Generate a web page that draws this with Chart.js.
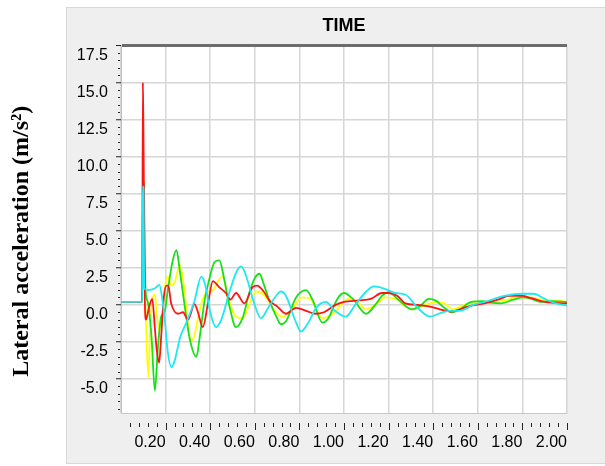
<!DOCTYPE html>
<html>
<head>
<meta charset="utf-8">
<script src="https://cdn.jsdelivr.net/npm/chart.js@4.4.0/dist/chart.umd.min.js"></script>
<style>
  html, body { margin: 0; padding: 0; background: #fff; }
  #panel {
    position: absolute; left: 66px; top: 7px; width: 545px; height: 455px;
    background: #efefef; border: 1px solid #d8d8d8;
  }
  #chart { position: absolute; left: 0; top: 0; }
</style>
</head>
<body>
<div id="panel"></div>
<canvas id="chart" width="605" height="466"></canvas>
<script>
// axis ticks
const xTicks = [0, 0.2, 0.4, 0.6, 0.8, 1.0, 1.2, 1.4, 1.6, 1.8, 2.0]
const yTicks = [-5, -2.5, 0, 2.5, 5, 7.5, 10, 12.5, 15, 17.5]

// series (time in s, lateral acceleration in m/s2)
const redT = [0, 0.095, 0.098, 0.100, 0.103, 0.106, 0.112, 0.125, 0.140, 0.152, 0.160, 0.171, 0.180, 0.192, 0.204, 0.212, 0.225, 0.256, 0.278, 0.300, 0.330, 0.345, 0.367, 0.390, 0.412, 0.440, 0.470, 0.490, 0.516, 0.553, 0.590, 0.610, 0.640, 0.665, 0.700, 0.740, 0.785, 0.830, 0.870, 0.910, 0.963, 1.000, 1.067, 1.120, 1.170, 1.200, 1.240, 1.275, 1.330, 1.380, 1.430, 1.480, 1.520, 1.560, 1.630, 1.690, 1.740, 1.800, 1.840, 1.900, 2.000]
const redV = [0.2, 0.2, 15.0, 12.6, 7.5, 1.0, -1.0, -0.2, 0.4, -1.6, -3.0, -3.9, -2.2, 0.5, 1.3, 1.3, 0.1, -0.6, -0.5, -1.0, 0.05, -0.5, -1.5, 0.1, 1.6, 1.2, 0.8, 0.35, 0.8, 0.1, 1.2, 1.3, 0.9, 0.3, -0.1, -0.6, -0.2, -0.4, -0.6, -0.5, 0.0, 0.2, 0.3, 0.4, 0.8, 0.8, 0.6, 0.1, 0.0, -0.1, -0.3, -0.45, -0.3, -0.1, 0.1, 0.35, 0.6, 0.6, 0.45, 0.2, 0.1]

const yellowT = [0, 0.095, 0.098, 0.102, 0.108, 0.115, 0.123, 0.130, 0.140, 0.152, 0.160, 0.170, 0.185, 0.200, 0.211, 0.225, 0.240, 0.265, 0.280, 0.295, 0.315, 0.330, 0.355, 0.380, 0.412, 0.440, 0.457, 0.480, 0.516, 0.545, 0.580, 0.605, 0.640, 0.695, 0.725, 0.770, 0.814, 0.850, 0.903, 0.950, 1.020, 1.060, 1.100, 1.150, 1.186, 1.230, 1.305, 1.350, 1.409, 1.450, 1.490, 1.540, 1.600, 1.660, 1.720, 1.790, 1.840, 1.900, 1.950, 2.000]
const yellowV = [0.2, 0.2, 7.2, 6.5, 1.0, -2.5, -4.9, -2.0, 0.3, 0.7, -0.5, -1.7, -0.5, 1.5, 1.9, 1.3, 1.5, 2.7, 1.5, -0.5, -2.5, -2.0, -0.2, 0.8, 1.0, 1.7, 1.9, 0.5, -0.8, -0.9, 0.2, 0.9, 0.7, -0.5, -0.8, -0.2, 0.5, 0.4, -0.9, -0.6, 0.4, 0.2, -0.3, 0.1, 0.5, 0.4, -0.3, -0.1, 0.2, 0.1, -0.3, 0.0, 0.2, 0.1, 0.3, 0.5, 0.5, 0.3, 0.3, 0.2]

const greenT = [0, 0.095, 0.099, 0.103, 0.106, 0.110, 0.120, 0.137, 0.152, 0.165, 0.180, 0.195, 0.210, 0.232, 0.249, 0.262, 0.285, 0.307, 0.338, 0.352, 0.375, 0.397, 0.420, 0.441, 0.462, 0.485, 0.516, 0.545, 0.575, 0.600, 0.621, 0.640, 0.665, 0.700, 0.717, 0.740, 0.785, 0.830, 0.860, 0.903, 0.930, 0.970, 1.000, 1.040, 1.100, 1.140, 1.170, 1.200, 1.240, 1.305, 1.340, 1.380, 1.410, 1.450, 1.483, 1.520, 1.570, 1.620, 1.660, 1.700, 1.760, 1.800, 1.840, 1.880, 1.930, 2.000]
const greenV = [0.2, 0.2, 8.3, 8.2, 4.0, 1.0, 0.2, -2.2, -5.8, -3.0, -0.8, -0.5, 1.0, 3.0, 3.7, 2.5, 0.0, -2.2, -3.5, -2.3, 0.3, 1.8, 2.9, 3.0, 1.8, 0.0, -1.5, -0.9, 0.8, 1.8, 2.1, 1.4, 0.3, -0.9, -1.3, -1.1, 0.5, 1.0, 0.3, -1.2, -0.9, 0.4, 0.8, 0.4, -0.6, 0.0, 0.6, 0.85, 0.4, -0.3, -0.1, 0.4, 0.3, -0.2, -0.5, -0.3, 0.2, 0.25, 0.15, 0.1, 0.35, 0.5, 0.4, 0.2, 0.25, 0.2]

const cyanT = [0, 0.096, 0.097, 0.101, 0.104, 0.120, 0.150, 0.172, 0.185, 0.196, 0.210, 0.226, 0.240, 0.265, 0.293, 0.330, 0.360, 0.380, 0.400, 0.427, 0.450, 0.487, 0.520, 0.539, 0.560, 0.595, 0.628, 0.660, 0.700, 0.717, 0.740, 0.780, 0.807, 0.840, 0.875, 0.918, 0.960, 1.008, 1.050, 1.100, 1.134, 1.180, 1.230, 1.275, 1.330, 1.387, 1.424, 1.470, 1.520, 1.580, 1.630, 1.720, 1.800, 1.850, 1.900, 1.950, 2.000]
const cyanV = [0.2, 0.2, 8.0, 7.9, 1.1, 1.0, 1.1, 1.35, 0.4, -1.0, -3.2, -4.2, -3.8, -2.2, -1.2, 0.3, 1.9, 1.2, -0.5, -1.5, -1.0, 0.9, 2.3, 2.6, 2.0, 0.2, -0.9, -0.2, 0.7, 0.9, 0.6, -1.0, -1.8, -1.2, -0.2, 0.2, -0.4, -0.8, 0.0, 0.9, 1.25, 1.1, 0.8, 0.7, -0.2, -0.8, -0.6, -0.4, -0.4, 0.0, 0.2, 0.6, 0.75, 0.75, 0.4, 0.1, -0.05]

const points = (ts, vs) => ts.map((t, i) => ({x: t, y: vs[i]}))

const tickFont = {family: "'Liberation Sans', Arial, sans-serif", size: 16}

// white plot area + small tick marks like the original axes
const plotDecor = {
  id: 'plotDecor',
  beforeDraw (chart) {
    const {ctx, chartArea: a} = chart
    ctx.save()
    ctx.fillStyle = '#ffffff'
    ctx.fillRect(a.left, a.top, a.right - a.left, a.bottom - a.top)
    ctx.restore()
  },
  afterDraw (chart) {
    const {ctx, chartArea: a, scales} = chart
    ctx.save()
    ctx.strokeStyle = '#222'
    ctx.lineWidth = 1
    ctx.beginPath()
    // x: minor every 0.04 s, major every 0.2 s
    for (let k = 1; k <= 50; k++) {
      const px = Math.round(scales.x.getPixelForValue(k * 0.04)) + 0.5
      ctx.moveTo(px, a.bottom + 10)
      ctx.lineTo(px, a.bottom + (k % 5 === 0 ? 17 : 14))
    }
    // y: minor dots every 0.5
    for (let v = -7; v <= 17.5; v += 0.5) {
      if (Math.abs(v % 2.5) < 1e-6) continue
      const py = Math.round(scales.y.getPixelForValue(v)) + 0.5
      ctx.moveTo(a.left - 3, py)
      ctx.lineTo(a.left - 1, py)
    }
    ctx.stroke()
    ctx.restore()
  }
}

const line = (data, color) => ({
  data,
  borderColor: color,
  borderWidth: 1.8,
  pointRadius: 0,
  cubicInterpolationMode: 'monotone',
  fill: false
})

new Chart('chart', {
  type: 'line',
  data: {
    datasets: [
      line(points(cyanT, cyanV), '#1ee8f2'),
      line(points(redT, redV), '#ff1414'),
      line(points(greenT, greenV), '#18e018'),
      line(points(yellowT, yellowV), '#ffff00')
    ]
  },
  options: {
    responsive: false,
    animation: false,
    devicePixelRatio: 1,
    layout: {padding: {left: 0, right: 38, top: 0, bottom: 0}},
    plugins: {
      legend: {display: false},
      tooltip: {enabled: false},
      title: {
        display: true,
        text: 'TIME',
        fullSize: false,
        color: '#000',
        font: {family: "'Liberation Sans', Arial, sans-serif", size: 18, weight: 'bold'},
        padding: {top: 15, bottom: 9}
      }
    },
    scales: {
      x: {
        type: 'linear',
        min: 0,
        max: 2,
        afterBuildTicks: (s) => { s.ticks = xTicks.map(v => ({value: v})) },
        afterFit: (s) => { s.height = 53 },
        ticks: {
          callback: (v) => v === 0 ? '' : v.toFixed(2),
          align: 'end',
          padding: 20,
          maxRotation: 0,
          autoSkip: false,
          color: '#000',
          font: tickFont
        },
        grid: {color: '#d6d6d6', lineWidth: 1.5, drawTicks: false},
        border: {color: '#c8c8c8', width: 1}
      },
      y: {
        type: 'linear',
        min: -7.3,
        max: 17.5,
        afterBuildTicks: (s) => { s.ticks = yTicks.map(v => ({value: v})) },
        afterFit: (s) => { s.width = 121 },
        ticks: {
          callback: (v) => v.toFixed(1),
          labelOffset: 10,
          padding: 8,
          color: '#000',
          font: tickFont
        },
        grid: {
          color: (c) => c.tick && c.tick.value === 17.5 ? '#6c6c6c' : '#d6d6d6',
          lineWidth: (c) => c.tick && c.tick.value === 17.5 ? 3 : 1.5,
          tickLength: 5,
          tickColor: '#222',
          tickWidth: 1
        },
        border: {color: '#c0c0c0', width: 1},
        title: {
          display: true,
          text: 'Lateral acceleration (m/s\u00b2)    ',
          color: '#000',
          font: {family: "'Liberation Serif', 'Times New Roman', serif", size: 24, weight: 'bold'},
          padding: {top: 7, bottom: 0}
        }
      }
    }
  },
  plugins: [plotDecor]
})
</script>
</body>
</html>
